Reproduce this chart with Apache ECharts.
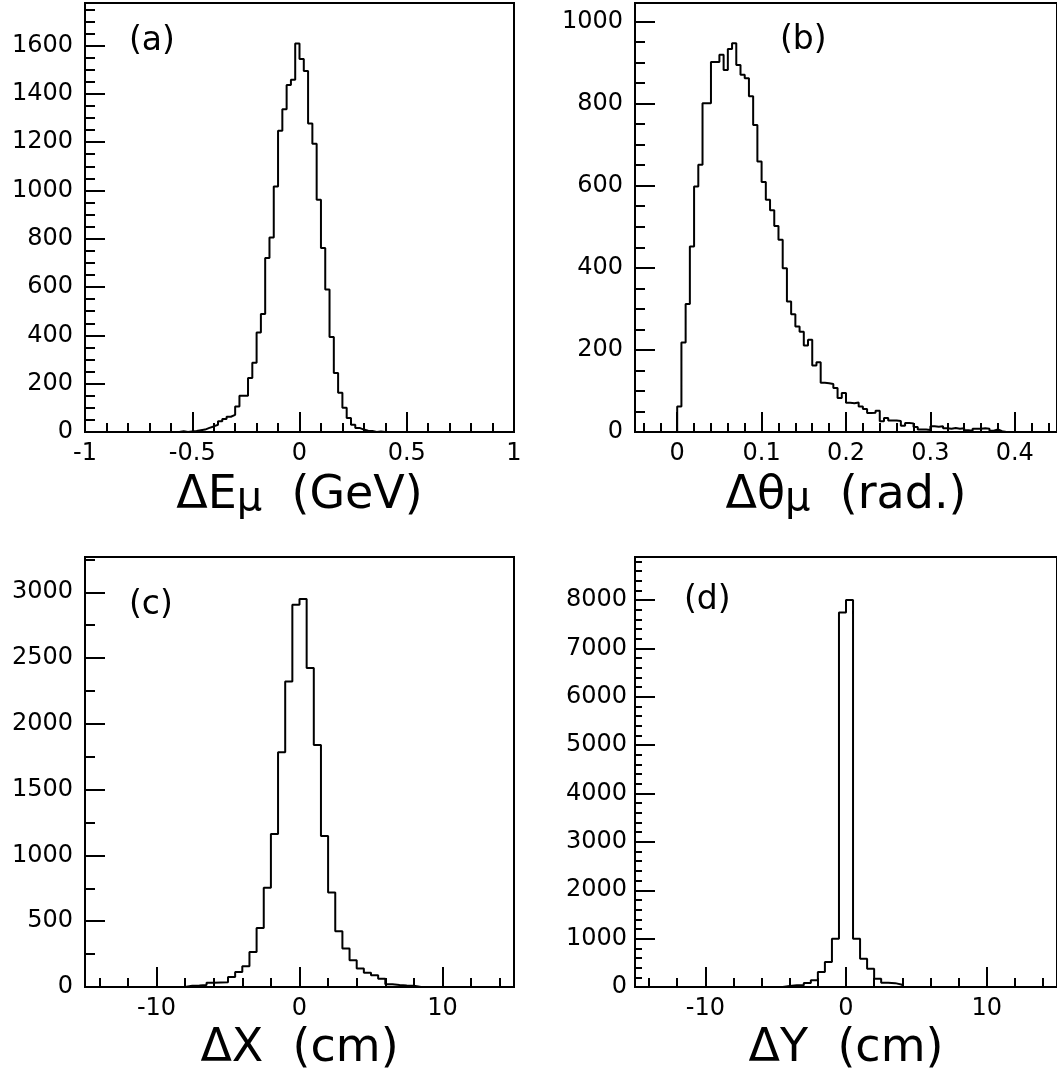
<!DOCTYPE html>
<html>
<head>
<meta charset="utf-8">
<script src="https://cdn.jsdelivr.net/npm/echarts@6/dist/echarts.min.js"></script>
<style>
html,body{margin:0;padding:0;background:#fff;}
#chart{width:1057px;height:1076px;}
</style>
</head>
<body>
<div id="chart"></div>
<script>
// ---------------- DATA ----------------
// (a) Delta E_mu (GeV): 100 bins from -1 to 1
const aLo = -1, aBinWidth = 0.02;
const aCounts = [
  0,0,0,0,0,0,0,0,0,0,
  0,0,0,0,0,0,0,0,0,0,
  0,0,3,0,2,4,7,10,17,23,
  30,44,54,63,71,106,150,150,224,287,
  412,488,720,805,1016,1247,1336,1437,1458,1608,
  1544,1494,1277,1193,962,762,590,393,244,162,
  100,58,30,17,10,5,4,0,2,0,
  0,0,0,0,0,0,0,0,0,0,
  0,0,0,0,0,0,0,0,0,0,
  0,0,0,0,0,0,0,0,0,0
];
const aXTicks = [-1, -0.5, 0, 0.5, 1];
const aYTicks = [0, 200, 400, 600, 800, 1000, 1200, 1400, 1600];

// (b) Delta theta_mu (rad.): 100 bins from -0.05 to 0.45
const bLo = -0.05, bBinWidth = 0.005;
const bCounts = [
  0,0,0,0,0,0,0,0,0,0,
  62,218,312,452,598,651,801,801,901,901,
  919,882,933,947,894,870,862,818,748,659,
  609,566,540,502,468,399,318,287,257,244,
  211,225,162,170,120,119,117,107,83,95,
  71,70,72,62,56,46,47,52,26,34,
  28,28,27,15,22,21,12,6,6,5,
  14,13,14,9,8,10,8,9,4,3,
  8,8,9,8,3,6,2,0,0,0,
  0,0,0,0,0,0,0,0,0,0
];
const bXTicks = [0, 0.1, 0.2, 0.3, 0.4];
const bYTicks = [0, 200, 400, 600, 800, 1000];

// (c) Delta X (cm): 60 bins from -15 to 15
const cLo = -15, cBinWidth = 0.5;
const cCounts = [
  0,0,0,0,0,0,0,0,0,0,
  0,0,0,0,10,12,15,33,35,36,
  76,114,157,266,449,754,1162,1784,2322,2906,
  2949,2424,1840,1147,718,424,292,203,140,109,
  89,63,20,15,12,10,0,0,0,0,
  0,0,0,0,0,0,0,0,0,0
];
const cXTicks = [-10, 0, 10];
const cYTicks = [0, 500, 1000, 1500, 2000, 2500, 3000];

// (d) Delta Y (cm): 60 bins from -15 to 15
const dLo = -15, dBinWidth = 0.5;
const dCounts = [
  0,0,0,0,0,0,0,0,0,0,
  0,0,0,0,0,0,0,0,0,0,
  0,20,35,35,83,138,310,517,1000,7745,
  8000,1000,586,379,172,90,80,48,0,0,
  0,0,0,0,0,0,0,0,0,0,
  0,0,0,0,0,0,0,0,0,0
];
const dXTicks = [-10, 0, 10];
const dYTicks = [0, 1000, 2000, 3000, 4000, 5000, 6000, 7000, 8000];

const panelLabels = ['(a)', '(b)', '(c)', '(d)'];

// ---------------- HELPERS ----------------
const FONT = 'DejaVu Sans';
function minorTicks(lo, hi, step, majors) {
  const out = [];
  const n = Math.round((hi - lo) / step);
  for (let i = 0; i <= n; i++) {
    const v = Math.round((lo + i * step) * 1e6) / 1e6;
    if (!majors.some(m => Math.abs(m - v) < 1e-9)) out.push(v);
  }
  return out;
}
function histPoints(lo, width, counts) {
  const pts = counts.map((c, k) => [Math.round((lo + k * width) * 1e6) / 1e6, c]);
  pts.push([Math.round((lo + counts.length * width) * 1e6) / 1e6, counts[counts.length - 1]]);
  return pts;
}
const rich = {
  m: {fontFamily: FONT, fontSize: 46, lineHeight: 48, color: '#000'},
  s: {fontFamily: FONT, fontSize: 40, lineHeight: 32, verticalAlign: 'bottom', color: '#000'}
};

const panels = [
  {grid: {left: 85, top: 3, width: 429, height: 429}, xMin: -1, xMax: 1, yMax: 1776,
   xMajor: aXTicks, xMinor: minorTicks(-1, 1, 0.1, aXTicks),
   yMajor: aYTicks, yMinor: minorTicks(0, 1750, 50, aYTicks),
   data: histPoints(aLo, aBinWidth, aCounts),
   name: '{m|ΔE}{s|μ}{m|  (GeV)}', nameGap: 40, yMargin: 12, yMinorLen: 10,
   lab: {left: 129, top: 25}},
  {grid: {left: 635, top: 3, width: 429, height: 429}, xMin: -0.05, xMax: 0.45, yMax: 1045,
   xMajor: bXTicks, xMinor: minorTicks(-0.04, 0.44, 0.02, bXTicks),
   yMajor: bYTicks, yMinor: minorTicks(0, 1000, 50, bYTicks),
   data: histPoints(bLo, bBinWidth, bCounts),
   name: '{m|Δθ}{s|μ}{m|  (rad.)}', nameGap: 40, yMargin: 12, yMinorLen: 10,
   lab: {left: 780, top: 24}},
  {grid: {left: 85, top: 557, width: 429, height: 430}, xMin: -15, xMax: 15, yMax: 3268,
   xMajor: cXTicks, xMinor: minorTicks(-14, 14, 2, cXTicks),
   yMajor: cYTicks, yMinor: minorTicks(0, 3250, 250, cYTicks),
   data: histPoints(cLo, cBinWidth, cCounts),
   name: '{m|ΔX  (cm)}', nameGap: 38, yMargin: 12, yMinorLen: 10,
   lab: {left: 129, top: 589}},
  {grid: {left: 635, top: 557, width: 429, height: 430}, xMin: -15, xMax: 15, yMax: 8890,
   xMajor: dXTicks, xMinor: minorTicks(-14, 14, 2, dXTicks),
   yMajor: dYTicks, yMinor: minorTicks(0, 8800, 200, dYTicks),
   data: histPoints(dLo, dBinWidth, dCounts),
   name: '{m|ΔY  (cm)}', nameGap: 38, yMargin: 8, yMinorLen: 7,
   lab: {left: 684, top: 584}}
];

const tickStyle = {color: '#000', width: 2};
const grids = [], xAxes = [], yAxes = [], series = [], titles = [];
panels.forEach((p, i) => {
  grids.push(Object.assign({show: true, borderColor: '#000', borderWidth: 2, backgroundColor: 'transparent'}, p.grid));
  xAxes.push({
    type: 'value', gridIndex: i, min: p.xMin, max: p.xMax, position: 'bottom',
    axisLine: {show: false, onZero: false}, splitLine: {show: false},
    axisTick: {show: true, inside: true, length: 20, lineStyle: tickStyle, customValues: p.xMajor},
    axisLabel: {show: true, customValues: p.xMajor, formatter: v => String(v),
      fontFamily: FONT, fontSize: 24, color: '#000', margin: 10},
    name: p.name, nameLocation: 'middle', nameGap: p.nameGap, nameTextStyle: {rich: rich}
  });
  xAxes.push({
    type: 'value', gridIndex: i, min: p.xMin, max: p.xMax, position: 'bottom',
    axisLine: {show: false, onZero: false}, splitLine: {show: false}, axisLabel: {show: false},
    axisTick: {show: true, inside: true, length: 9, lineStyle: tickStyle, customValues: p.xMinor}
  });
  yAxes.push({
    type: 'value', gridIndex: i, min: 0, max: p.yMax, position: 'left',
    axisLine: {show: false, onZero: false}, splitLine: {show: false},
    axisTick: {show: true, inside: true, length: 20, lineStyle: tickStyle, customValues: p.yMajor},
    axisLabel: {show: true, customValues: p.yMajor, formatter: v => String(v),
      fontFamily: FONT, fontSize: 24, color: '#000', margin: p.yMargin}
  });
  yAxes.push({
    type: 'value', gridIndex: i, min: 0, max: p.yMax, position: 'left',
    axisLine: {show: false, onZero: false}, splitLine: {show: false}, axisLabel: {show: false},
    axisTick: {show: true, inside: true, length: p.yMinorLen, lineStyle: tickStyle, customValues: p.yMinor}
  });
  series.push({
    type: 'line', xAxisIndex: 2 * i, yAxisIndex: 2 * i, data: p.data, step: 'end',
    symbol: 'none', lineStyle: {color: '#000', width: 2}, animation: false, clip: true
  });
  titles.push({text: panelLabels[i], left: p.lab.left, top: p.lab.top, padding: 0,
    textStyle: {fontFamily: FONT, fontSize: 33, fontWeight: 'normal', color: '#000'}});
});

const chart = echarts.init(document.getElementById('chart'), null, {renderer: 'canvas'});
chart.setOption({
  backgroundColor: '#fff',
  animation: false,
  title: titles,
  grid: grids,
  xAxis: xAxes,
  yAxis: yAxes,
  series: series
});
</script>
</body>
</html>
